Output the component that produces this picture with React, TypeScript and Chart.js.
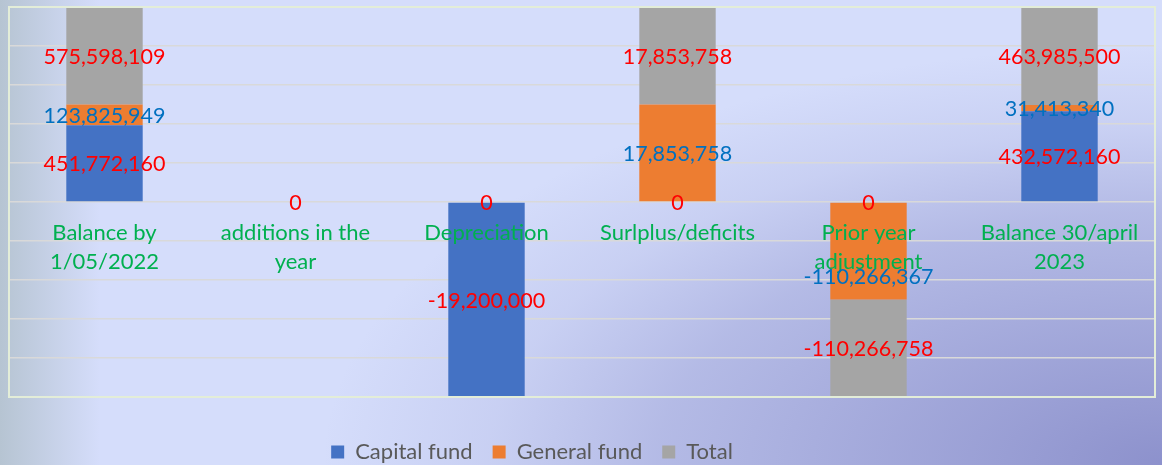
import { useEffect, useRef } from "react";
import { Chart, registerables } from "chart.js";

Chart.register(...registerables);

// Categories (multi-line labels)
const categories: string[][] = [
  ["Balance by", "1/05/2022"],
  ["additions in the", "year"],
  ["Depreciation"],
  ["Surlplus/deficits"],
  ["Prior year", "adjustment"],
  ["Balance 30/april", "2023"],
];

const seriesNames = ["Capital fund", "General fund", "Total"];

const capitalFund = [1.97, 0, -5, 0, 0, 2.33];
const generalFund = [0.53, 0, 0, 2.5, -2.5, 0.16];
const total = [2.5, 0, 0, 2.5, -2.5, 2.5];

// Data label texts shown on the chart
const capitalLabels = ["451,772,160", "0", "-19,200,000", "0", "0", "432,572,160"];
const generalLabels = ["123,825,949", "", "", "17,853,758", "-110,266,367", "31,413,340"];
const totalLabels = ["575,598,109", "", "0", "17,853,758", "-110,266,758", "463,985,500"];

// Value axis range
const axisMin = -5;
const axisMax = 5;
const axisStep = 1;

const FONT = "Lato, 'Noto Sans', sans-serif";

const backgroundPlugin = {
  id: "bgPaint",
  beforeDraw(chart: any) {
    const { ctx, width, height } = chart;
    ctx.save();
    ctx.fillStyle = "#D5DDFB";
    ctx.fillRect(0, 0, width, height);
    // left grey fade
    const lg = ctx.createLinearGradient(0, 0, 100, 0);
    lg.addColorStop(0, "rgba(182,196,210,1)");
    lg.addColorStop(1, "rgba(182,196,210,0)");
    ctx.fillStyle = lg;
    ctx.fillRect(0, 0, 100, height);
    // bottom-right darker elliptical glow
    ctx.translate(width, height);
    ctx.scale(2, 1);
    const rg = ctx.createRadialGradient(0, 0, 0, 0, 0, 420);
    rg.addColorStop(0, "rgba(128,132,196,0.85)");
    rg.addColorStop(0.14, "rgba(128,132,196,0.74)");
    rg.addColorStop(0.6, "rgba(128,132,196,0.39)");
    rg.addColorStop(0.8, "rgba(128,132,196,0.15)");
    rg.addColorStop(1, "rgba(128,132,196,0)");
    ctx.fillStyle = rg;
    ctx.fillRect(-width, -height, width, height);
    ctx.restore();
  },
};

const legendShiftPlugin = {
  id: "legendShift",
  afterLayout(chart: any, _args: any, opts: any) {
    const lg = chart.legend;
    if (lg && opts.dx) {
      lg.left += opts.dx;
      lg.right += opts.dx;
    }
  },
};

const labelsPlugin = {
  id: "textLabels",
  afterDatasetsDraw(chart: any, _args: any, opts: any) {
    const { ctx, chartArea } = chart;
    const xs = chart.scales.x;
    const ys = chart.scales.y;
    const y0 = ys.getPixelForValue(0);
    ctx.save();
    // plot border
    ctx.strokeStyle = "#E3EDD8";
    ctx.lineWidth = 2;
    ctx.strokeRect(chartArea.left, chartArea.top, chartArea.right - chartArea.left, chartArea.bottom - chartArea.top);

    ctx.textAlign = "center";
    ctx.textBaseline = "middle";
    ctx.font = `22px ${FONT}`;
    ctx.fillStyle = "#00B050";
    categories.forEach((lines, i) => {
      const cx = xs.getPixelForValue(i);
      lines.forEach((t, j) => ctx.fillText(t, cx, y0 + 31 + j * 29));
    });

    const sets = [
      { labels: capitalLabels, color: "#FF0000" },
      { labels: generalLabels, color: "#0070C0" },
      { labels: totalLabels, color: "#FF0000" },
    ];
    ctx.font = `21.5px ${FONT}`;
    const clamp = (v: number) => Math.max(chartArea.top, Math.min(chartArea.bottom, v));
    sets.forEach((s, di) => {
      const meta = chart.getDatasetMeta(di);
      const values = chart.data.datasets[di].data as number[];
      meta.data.forEach((el: any, i: number) => {
        const text = s.labels[i];
        if (!text) return;
        const p = el.getProps(["x", "y", "base"], true);
        const shift = (opts.shift && opts.shift[di] && opts.shift[di][i]) || 0;
        const cy = values[i] === 0 ? y0 : (clamp(p.y) + clamp(p.base)) / 2;
        ctx.fillStyle = s.color;
        ctx.fillText(text, p.x, cy + 1 + shift);
      });
    });
    ctx.restore();
  },
};

export default function App() {
  const ref = useRef<HTMLCanvasElement>(null);
  useEffect(() => {
    document.body.style.margin = "0";
    if (!ref.current) return;
    const chart = new Chart(ref.current, {
      type: "bar",
      data: {
        labels: categories.map((c) => c.join(" ")),
        datasets: [
          { label: seriesNames[0], data: capitalFund, backgroundColor: "#4472C4" },
          { label: seriesNames[1], data: generalFund, backgroundColor: "#ED7D31" },
          { label: seriesNames[2], data: total, backgroundColor: "#A5A5A5" },
        ],
      },
      options: {
        animation: false,
        responsive: true,
        maintainAspectRatio: false,
        layout: { padding: { left: 9, top: 7, right: 7, bottom: -8 } },
        datasets: { bar: { barPercentage: 0.4, categoryPercentage: 1 } },
        scales: {
          x: {
            stacked: true,
            display: true,
            grid: { display: false },
            border: { display: false },
            ticks: { display: false },
            afterFit: (s: any) => {
              s.height = 24;
            },
          },
          y: {
            stacked: true,
            min: axisMin,
            max: axisMax,
            grid: { color: "#D9D9D9", lineWidth: 1.5, drawTicks: false },
            border: { display: false },
            ticks: { display: false, stepSize: axisStep },
          },
        },
        plugins: {
          legend: {
            position: "bottom",
            labels: {
              boxWidth: 13,
              boxHeight: 13,
              padding: 20,
              color: "#595959",
              font: { family: FONT, size: 22 },
            },
          },
          tooltip: { enabled: false },
          legendShift: { dx: -50 },
          textLabels: { shift: [[], [0, 0, 0, 0, 25, 0], []] },
        } as any,
      },
      plugins: [backgroundPlugin, legendShiftPlugin, labelsPlugin],
    });
    return () => chart.destroy();
  }, []);
  return (
    <div style={{ width: 1162, height: 465, position: "relative" }}>
      <canvas ref={ref} />
    </div>
  );
}
